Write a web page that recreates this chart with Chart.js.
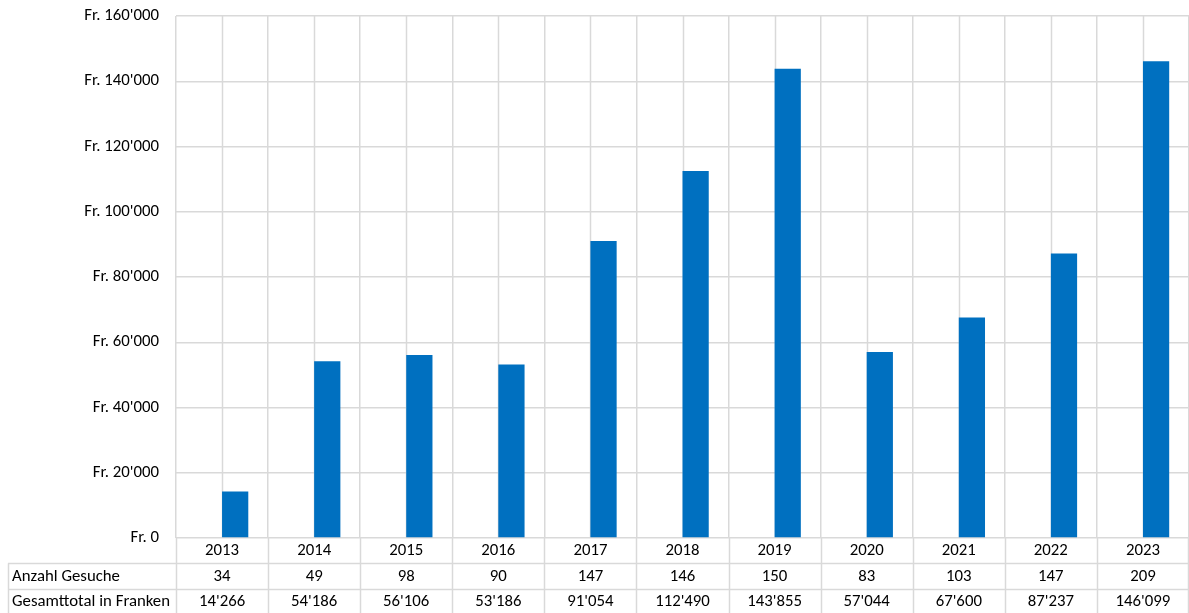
<!DOCTYPE html>
<html>
<head>
<meta charset="utf-8">
<script src="https://cdn.jsdelivr.net/npm/chart.js@4/dist/chart.umd.min.js"></script>
<style>
  html, body { margin: 0; padding: 0; background: #ffffff; }
  #wrap { width: 1189px; height: 613px; }
</style>
</head>
<body>
<div id="wrap"><canvas id="gesucheChart" width="1189" height="613"></canvas></div>
<script>
// Daten
const years = ['2013', '2014', '2015', '2016', '2017', '2018', '2019', '2020', '2021', '2022', '2023'];
const anzahlGesuche = [34, 49, 98, 90, 147, 146, 150, 83, 103, 147, 209];
const gesamttotal = [14266, 54186, 56106, 53186, 91054, 112490, 143855, 57044, 67600, 87237, 146099];
const rowLabels = ['Anzahl Gesuche', 'Gesamttotal in Franken'];

const FONT = "Carlito, Lato, 'Open Sans', sans-serif";
const FSIZE = 16.8;
const GRID = '#d9d9d9';

function fmt(v) {
    return String(v).replace(/\B(?=(\d{3})+(?!\d))/g, "'");
}

// Mittellinien in jeder Kategorie + Datentabelle unter der Achse
const tablePlugin = {
    id: 'dataTable',
    beforeDatasetsDraw(chart) {
        const ctx = chart.ctx;
        const x = chart.scales.x;
        const area = chart.chartArea;
        ctx.save();
        ctx.strokeStyle = GRID;
        ctx.lineWidth = 1.5;
        years.forEach((y, i) => {
            const px = Math.round(x.getPixelForValue(i)) + 0.5;
            ctx.beginPath();
            ctx.moveTo(px, area.top);
            ctx.lineTo(px, area.bottom);
            ctx.stroke();
        });
        ctx.restore();
    },
    afterDraw(chart) {
        const ctx = chart.ctx;
        const x = chart.scales.x;
        const area = chart.chartArea;
        const rowH = 25.3;
        const top = area.bottom;
        const tableLeft = 8;
        ctx.save();
        ctx.strokeStyle = GRID;
        ctx.lineWidth = 1.5;

        // horizontale Linien
        for (let r = 1; r <= 3; r++) {
            const py = Math.round(top + r * rowH) + 0.5;
            ctx.beginPath();
            ctx.moveTo(tableLeft, py);
            ctx.lineTo(area.right, py);
            ctx.stroke();
        }
        // vertikale Linien (Kategoriegrenzen)
        for (let i = 0; i <= years.length; i++) {
            const px = i < years.length
                ? x.getPixelForValue(i) - x.width / years.length / 2
                : area.right - 0.75;
            ctx.beginPath();
            ctx.moveTo(Math.round(px) + 0.5, top);
            ctx.lineTo(Math.round(px) + 0.5, top + 3 * rowH);
            ctx.stroke();
        }
        ctx.beginPath();
        ctx.moveTo(tableLeft + 0.5, top + rowH);
        ctx.lineTo(tableLeft + 0.5, top + 3 * rowH);
        ctx.stroke();

        // Text
        ctx.fillStyle = '#000000';
        ctx.font = FSIZE + 'px ' + FONT;
        ctx.textBaseline = 'middle';
        const rows = [anzahlGesuche, gesamttotal];
        rows.forEach((row, r) => {
            const cy = top + (r + 1.5) * rowH + 0.5;
            ctx.textAlign = 'left';
            ctx.fillText(rowLabels[r], tableLeft + 4, cy);
            ctx.textAlign = 'center';
            row.forEach((v, i) => {
                ctx.fillText(fmt(v), x.getPixelForValue(i), cy);
            });
        });
        ctx.restore();
    }
};

new Chart(document.getElementById('gesucheChart'), {
    type: 'bar',
    data: {
        labels: years,
        datasets: [
            {
                label: 'Anzahl Gesuche',
                data: anzahlGesuche,
                backgroundColor: 'rgba(0,0,0,0)',
                borderWidth: 0
            },
            {
                label: 'Gesamttotal in Franken',
                data: gesamttotal,
                backgroundColor: '#0070c0',
                borderWidth: 0
            }
        ]
    },
    options: {
        responsive: false,
        animation: false,
        categoryPercentage: 0.57,
        barPercentage: 1.0,
        layout: { padding: { top: 16, right: 0, left: 0, bottom: 0 } },
        plugins: {
            legend: { display: false },
            tooltip: { enabled: false }
        },
        scales: {
            x: {
                grid: { color: GRID, lineWidth: 1.5, drawTicks: false },
                border: { display: false },
                ticks: {
                    color: '#000000',
                    font: { family: FONT, size: FSIZE },
                    padding: 3,
                    maxRotation: 0
                },
                afterFit(scale) { scale.height = 75; }
            },
            y: {
                min: 0,
                max: 160000,
                grid: { color: GRID, lineWidth: 1.5, drawTicks: false },
                border: { display: false },
                ticks: {
                    stepSize: 20000,
                    color: '#000000',
                    font: { family: FONT, size: FSIZE },
                    padding: 17,
                    callback: function(value) {
                        return 'Fr. ' + fmt(value);
                    }
                },
                afterFit(scale) {
                    scale.width = 176;
                    scale.paddingTop = 0;
                    scale.paddingBottom = 0;
                }
            }
        }
    },
    plugins: [tablePlugin]
});
</script>
</body>
</html>
